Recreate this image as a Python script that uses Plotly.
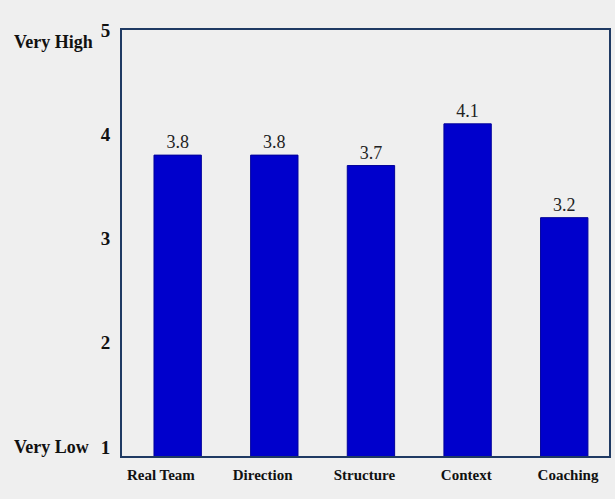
import plotly.graph_objects as go

categories = ["Real Team", "Direction", "Structure", "Context", "Coaching"]
values = [3.8, 3.8, 3.7, 4.1, 3.2]
y_tick_vals = [1, 2, 3, 4, 5]
y_tick_text = ["1", "2", "3", "4", "5"]

SERIF = "Liberation Serif"
NAVY = "#1f3a63"
positions = list(range(len(categories)))

fig = go.Figure()
fig.add_trace(go.Bar(
    x=positions,
    y=values,
    marker=dict(color="#0000cc", line=dict(color="#00009a", width=1)),
    width=0.49,
    text=[f"{v:.1f}" for v in values],
    textposition="outside",
    textfont=dict(family=SERIF, size=18, color="#222222"),
    outsidetextfont=dict(family=SERIF, size=18, color="#222222"),
    cliponaxis=False,
    hoverinfo="x+y",
))
# invisible helper trace carrying the category label axis
fig.add_trace(go.Scatter(
    x=positions, y=values, xaxis="x2", mode="markers",
    marker=dict(opacity=0), hoverinfo="skip", showlegend=False,
))

fig.update_layout(
    width=615, height=499,
    margin=dict(l=122, r=4, t=30, b=43),
    paper_bgcolor="#efefef",
    plot_bgcolor="#efefef",
    showlegend=False,
    xaxis=dict(
        range=[-0.576, 4.463],
        showticklabels=False,
        showline=True, mirror=True, linecolor=NAVY, linewidth=2,
        showgrid=False, zeroline=False, ticks="",
    ),
    xaxis2=dict(
        overlaying="x", side="bottom",
        range=[-0.382, 4.403],
        tickvals=positions,
        ticktext=categories,
        tickfont=dict(family=SERIF, size=15, color="#111111", weight="bold"),
        showline=False, showgrid=False, zeroline=False, ticks="",
        ticklabelstandoff=8,
    ),
    yaxis=dict(
        range=[0.914, 5.0],
        tickvals=y_tick_vals,
        ticktext=y_tick_text,
        tickfont=dict(family=SERIF, size=19, color="#111111", weight="bold"),
        showline=True, mirror=True, linecolor=NAVY, linewidth=2,
        showgrid=False, zeroline=False, ticks="", ticklabelstandoff=6,
    ),
)

plot_w = 615 - 122 - 4
plot_h = 499 - 30 - 43
anns = []
for text, px, py in [("<b>Very High</b>", 12, 42), ("<b>Very Low</b>", 12, 447)]:
    anns.append(dict(
        text=text,
        x=(px - 122) / plot_w, y=1 - (py - 30) / plot_h,
        xref="paper", yref="paper", xanchor="left", yanchor="middle",
        showarrow=False,
        font=dict(family=SERIF, size=18, color="#111111"),
    ))
fig.update_layout(annotations=anns)

fig.write_html("out.html")
